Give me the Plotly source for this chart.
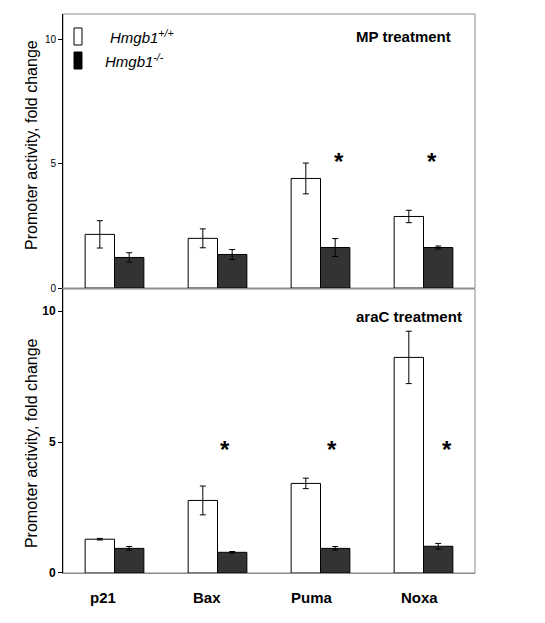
import plotly.graph_objects as go

genes = ["p21", "Bax", "Puma", "Noxa"]

mp_wt = [2.16, 2.00, 4.41, 2.88]
mp_wt_err = [0.55, 0.38, 0.62, 0.25]
mp_ko = [1.23, 1.35, 1.63, 1.63]
mp_ko_err = [0.19, 0.20, 0.36, 0.06]

arac_wt = [1.29, 2.77, 3.42, 8.23]
arac_wt_err = [0.03, 0.55, 0.20, 1.00]
arac_ko = [0.94, 0.79, 0.94, 1.02]
arac_ko_err = [0.07, 0.03, 0.07, 0.11]

mp_stars = ["Puma", "Noxa"]
mp_star_y = 5.28
arac_stars = ["Bax", "Puma", "Noxa"]
arac_star_y = 4.91

y_ticks = [0, 5, 10]
y_title = "Promoter activity, fold change"
legend_labels = ["<i>Hmgb1<sup>+/+</sup></i>", "<i>Hmgb1<sup>-/-</sup></i>"]

# styling nudges (pixels)
mp_star_nudge = [18, 8]
arac_star_nudge = [7, 11, 23]
label_nudge = [-12, -11, -9, -4]

WHITE = "#ffffff"
DARK = "#333333"
GREY = "#8c8c8c"


def add_pair(fig, wt, wt_err, ko, ko_err, xa, ya):
    err_style = dict(type="data", thickness=1, width=3, color="black")
    fig.add_trace(go.Bar(x=genes, y=wt, error_y=dict(array=wt_err, **err_style),
                         marker=dict(color=WHITE, line=dict(color="black", width=1)),
                         xaxis=xa, yaxis=ya, showlegend=False))
    fig.add_trace(go.Bar(x=genes, y=ko, error_y=dict(array=ko_err, **err_style),
                         marker=dict(color=DARK, line=dict(color="black", width=1)),
                         xaxis=xa, yaxis=ya, showlegend=False))


fig = go.Figure()
add_pair(fig, mp_wt, mp_wt_err, mp_ko, mp_ko_err, "x", "y")
add_pair(fig, arac_wt, arac_wt_err, arac_ko, arac_ko_err, "x2", "y2")

top_dom = [0.5098, 1.0]
bot_dom = [0.0, 0.508]

# page body adds an 8px margin, so the figure is drawn 8px smaller and offset
fig.update_layout(
    width=537, height=615,
    margin=dict(l=55, r=70, t=6, b=50),
    paper_bgcolor="white", plot_bgcolor="white",
    barmode="group", bargap=0.43, bargroupgap=0.0,
    font=dict(family="Arial, Liberation Sans, sans-serif", color="black"),
    xaxis=dict(domain=[0, 1], anchor="y", categoryorder="array", categoryarray=genes,
               showticklabels=False, showline=True, linecolor=GREY, linewidth=1,
               ticks="", showgrid=False, zeroline=False),
    yaxis=dict(domain=top_dom, anchor="x", range=[0, 11.03], tickvals=y_ticks,
               ticks="outside", ticklen=4, tickcolor="black",
               tickfont=dict(size=10, color="black"),
               showline=True, linecolor="black", linewidth=1,
               showgrid=False, zeroline=False),
    xaxis2=dict(domain=[0, 1], anchor="y2", categoryorder="array", categoryarray=genes,
                showticklabels=False, showline=True, linecolor=GREY, linewidth=1, ticks="",
                showgrid=False, zeroline=False),
    yaxis2=dict(domain=bot_dom, anchor="x2", range=[0, 10.84], tickvals=y_ticks,
                ticks="outside", ticklen=4, tickcolor="black",
                tickfont=dict(size=12, color="black", weight="bold"),
                showline=True, linecolor="black", linewidth=1,
                showgrid=False, zeroline=False),
)

# category labels below the lower panel
for g, dx in zip(genes, label_nudge):
    fig.add_annotation(xref="x2", yref="paper", x=g, y=0, yshift=-24, xshift=dx,
                       text=f"<b>{g}</b>", showarrow=False, xanchor="center", yanchor="middle",
                       font=dict(size=15))

# panel frames (grey top / right edges)
for dom in (top_dom, bot_dom):
    fig.add_shape(type="rect", xref="paper", yref="paper", x0=0, x1=1, y0=dom[0], y1=dom[1],
                  line=dict(color=GREY, width=1), fillcolor="rgba(0,0,0,0)", layer="below")

# y-axis titles
for yc in (0.766, 0.2326):
    fig.add_annotation(xref="paper", yref="paper", x=-0.075, y=yc, text=y_title,
                       textangle=-90, showarrow=False, xanchor="center", yanchor="middle",
                       font=dict(size=16, color="black"))

# panel labels
fig.add_annotation(xref="paper", yref="paper", x=0.9466, y=0.9606, text="<b>MP treatment</b>",
                   showarrow=False, xanchor="right", yanchor="middle", font=dict(size=15))
fig.add_annotation(xref="paper", yref="paper", x=0.9733, y=0.4597, text="<b>araC treatment</b>",
                   showarrow=False, xanchor="right", yanchor="middle", font=dict(size=15))

# significance stars
for g, dx in zip(mp_stars, mp_star_nudge):
    fig.add_annotation(xref="x", yref="y", x=g, y=mp_star_y, text="<b>*</b>", showarrow=False,
                       xshift=dx, yanchor="middle", yshift=-5, font=dict(size=24))
for g, dx in zip(arac_stars, arac_star_nudge):
    fig.add_annotation(xref="x2", yref="y2", x=g, y=arac_star_y, text="<b>*</b>", showarrow=False,
                       xshift=dx, yanchor="middle", yshift=-5, font=dict(size=24))

# legend (manual, tall narrow swatches)
fig.add_shape(type="rect", xref="paper", yref="paper", x0=0.0267, x1=0.0461, y0=0.9445, y1=0.975,
              line=dict(color="black", width=1), fillcolor=WHITE)
fig.add_shape(type="rect", xref="paper", yref="paper", x0=0.0267, x1=0.0461, y0=0.9016, y1=0.932,
              line=dict(color="black", width=1), fillcolor="black")
fig.add_annotation(xref="paper", yref="paper", x=0.109, y=0.9606, text=legend_labels[0],
                   showarrow=False, xanchor="left", yanchor="middle", font=dict(size=15))
fig.add_annotation(xref="paper", yref="paper", x=0.097, y=0.9177, text=legend_labels[1],
                   showarrow=False, xanchor="left", yanchor="middle", font=dict(size=15))

fig.write_html("out.html")
